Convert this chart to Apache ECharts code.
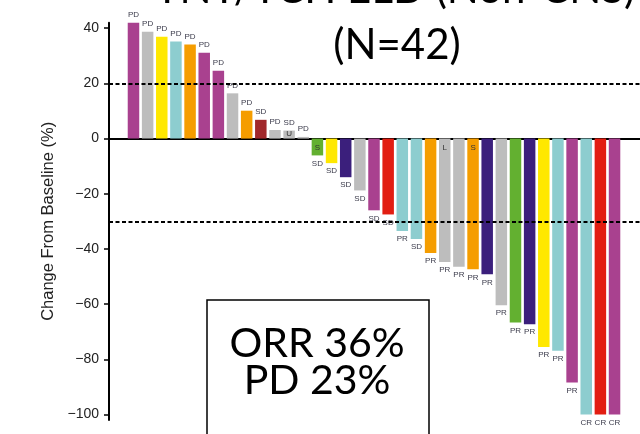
<!DOCTYPE html>
<html>
<head>
<meta charset="utf-8">
<script src="https://cdn.jsdelivr.net/npm/echarts@6/dist/echarts.min.js"></script>
<style>
html,body{margin:0;padding:0;background:#fff;}
#chart{width:640px;height:434px;}
</style>
</head>
<body>
<div id="chart"></div>
<script>
// ---- data ----
const patients = Array.from({length: 35}, (_, i) => 'P' + (i + 1));
const changeFromBaseline = [42, 38.7, 36.9, 35.2, 34.1, 31.1, 24.6, 16.4, 10.1, 6.8, 3.1, 2.9, 0.6,
  -6.1, -8.9, -14.0, -18.8, -26.0, -27.5, -33.5, -36.4, -41.5, -44.7, -46.5, -47.4, -49.2,
  -60.4, -66.7, -67.3, -75.5, -76.9, -88.4, -100, -100, -100];
const bestResponse = ['PD','PD','PD','PD','PD','PD','PD','PD','PD','SD','PD','SD','PD',
  'SD','SD','SD','SD','SD','SD','PR','SD','PR','PR','PR','PR','PR',
  'PR','PR','PR','PR','PR','PR','CR','CR','CR'];
const innerMark = ['','','','','','','','','','','','U','',
  'S','','','','','','','','','L','','S','',
  '','','','','','','','',''];
const groupKey = ['g1','g2','g3','g4','g5','g1','g1','g2','g5','g6','g2','g2','g2',
  'g7','g3','g8','g2','g1','g9','g4','g4','g5','g2','g2','g5','g8',
  'g2','g7','g8','g3','g4','g1','g4','g9','g1'];
const yTicks = [-100, -80, -60, -40, -20, 0, 20, 40];
const thresholds = [20, -30];

// ---- styles ----
const palette = {g1:'#A9418F', g2:'#BDBDBD', g3:'#FFE800', g4:'#8DCDCF', g5:'#F59D00',
  g6:'#A1282B', g7:'#63B030', g8:'#3B1F7C', g9:'#E21E12'};

const barData = changeFromBaseline.map((v, i) => ({
  value: [i, v],
  itemStyle: {color: palette[groupKey[i]]},
  label: {position: v >= 0 ? 'top' : 'bottom', formatter: bestResponse[i]}
}));
const markData = changeFromBaseline.map((v, i) => ({
  value: [i, v],
  label: {show: innerMark[i] !== '', position: v >= 0 ? 'insideBottom' : 'insideTop',
          distance: v >= 0 ? 1 : 5, formatter: innerMark[i]}
}));

const chart = echarts.init(document.getElementById('chart'), null, {renderer: 'canvas'});
chart.setOption({
  animation: false,
  backgroundColor: '#fff',
  grid: {left: 109, right: 0, top: 22.7, bottom: 14, containLabel: false},
  xAxis: {
    type: 'value', min: -1.73, max: 35.8,
    axisLine: {show: true, onZero: true, lineStyle: {color: '#000', width: 2}},
    axisTick: {show: false}, axisLabel: {show: false}, splitLine: {show: false}
  },
  yAxis: {
    type: 'value', min: -102, max: 42,
    name: 'Change From Baseline (%)', nameLocation: 'middle', nameRotate: 90, nameGap: 50,
    nameTextStyle: {fontFamily: 'Liberation Sans, Arial', fontSize: 16.5, color: '#222'},
    axisLine: {show: true, onZero: false, lineStyle: {color: '#000', width: 2}},
    axisTick: {show: true, length: 5, lineStyle: {color: '#000', width: 1.5}, customValues: yTicks},
    axisLabel: {customValues: yTicks, margin: 10, fontFamily: 'Liberation Sans, Arial', fontSize: 14, color: '#222',
      formatter: v => (v < 0 ? '\u2212' + Math.abs(v) : String(v))},
    splitLine: {show: false}
  },
  series: [
    {
      type: 'bar', data: barData, barWidth: 11.5,
      label: {show: true, fontFamily: 'Liberation Sans, Arial', fontSize: 8, color: '#3a3a4a', distance: 4},
      markLine: {
        silent: true, symbol: 'none', label: {show: false},
        lineStyle: {color: '#000', type: [4, 2.5], width: 2},
        data: thresholds.map(t => ({yAxis: t}))
      },
      z: 2
    },
    {
      type: 'bar', data: markData, barWidth: 11.5, barGap: '-100%', silent: true,
      itemStyle: {color: 'rgba(0,0,0,0)'},
      label: {fontFamily: 'Liberation Sans, Arial', fontSize: 8, color: '#333'},
      z: 3
    }
  ],
  graphic: [
    {type: 'text', x: 395, y: 10, z: 10,
     style: {text: 'TNT/TCH ELD (Non-CNS)', font: '42px Lato', fill: '#000', align: 'center', verticalAlign: 'bottom'}},
    {type: 'text', x: 397, y: 45, z: 10,
     style: {text: '(N=42)', font: '42px Lato', fill: '#000', align: 'center', verticalAlign: 'middle'}},
    {type: 'rect', z: 9, shape: {x: 207, y: 300, width: 222, height: 170},
     style: {fill: '#fff', stroke: '#000', lineWidth: 1.5}},
    {type: 'text', x: 317, y: 362, z: 10,
     style: {text: 'ORR 36%\nPD 23%', font: '41px Lato', lineHeight: 37, fill: '#000', align: 'center', verticalAlign: 'middle'}}
  ]
});
</script>
</body>
</html>
